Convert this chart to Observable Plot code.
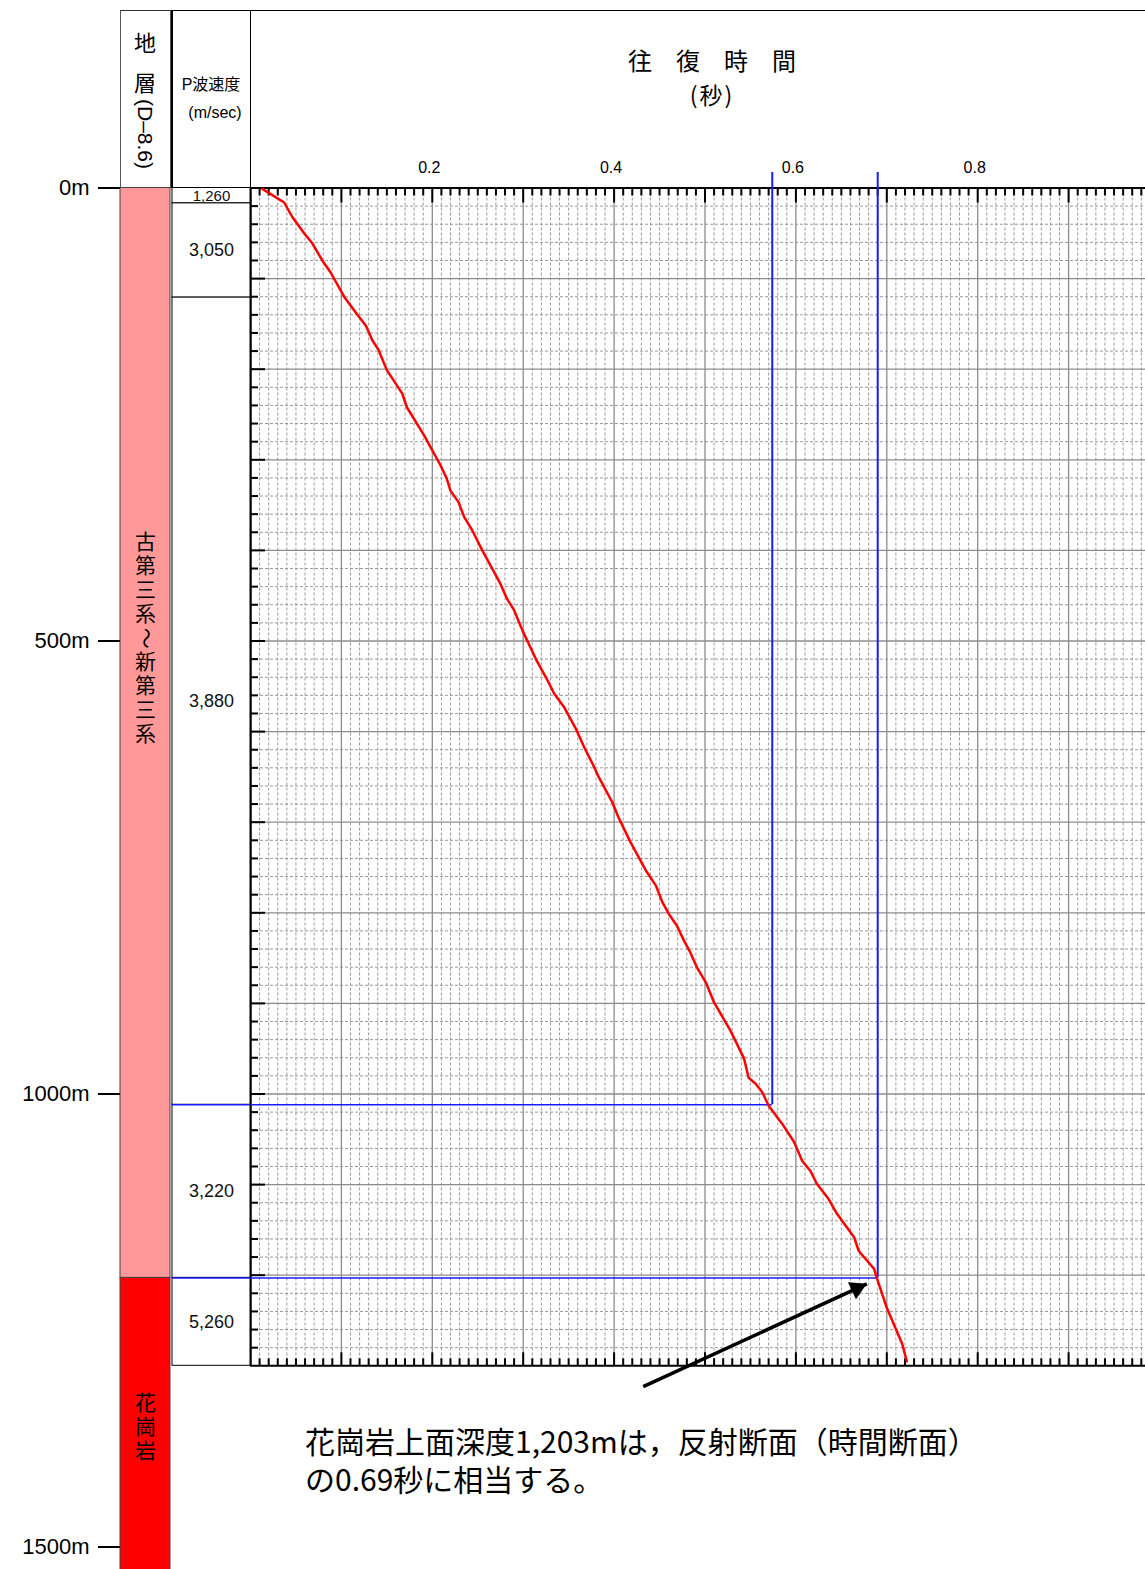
<!DOCTYPE html>
<html>
<head>
<meta charset="utf-8">
<script src="https://cdn.jsdelivr.net/npm/d3@7"></script>
<script src="https://cdn.jsdelivr.net/npm/@observablehq/plot@0.6"></script>
<style>
  body { margin: 0; background: #fff; }
  #wrap { position: relative; width: 1145px; height: 1569px; overflow: hidden;
          font-family: "Liberation Sans", "Noto Sans CJK JP", sans-serif; color: #000; }
  #wrap svg { position: absolute; left: 0; top: 0; }
  .hd { position: absolute; box-sizing: border-box; }
  .lbl { position: absolute; white-space: nowrap; }
  .cjk { font-family: "Noto Sans CJK JP", sans-serif; }
</style>
</head>
<body>
<div id="wrap">
  <!-- header boxes -->
  <div class="hd" style="left:120px;top:10px;width:51px;height:178px;border-top:1px solid #333;border-left:1px solid #555;border-right:1px solid #555;"></div>
  <div class="hd" style="left:171px;top:10px;width:80px;height:178px;border-top:1px solid #000;border-left:2px solid #000;border-right:1px solid #000;"></div>
  <div class="hd" style="left:250px;top:10px;width:900px;height:178px;border-top:1px solid #000;border-left:1px solid #000;"></div>
  <div class="lbl cjk" style="left:133px;top:28px;width:24px;text-align:center;font-size:22px;line-height:26px;">地</div>
  <div class="lbl cjk" style="left:133px;top:68px;width:24px;text-align:center;font-size:22px;line-height:26px;">層</div>
  <div class="lbl" style="left:145px;top:134px;transform:translate(-50%,-50%) rotate(90deg);font-size:21px;line-height:24px;">(D–8.6)</div>
  <div class="lbl" style="left:172px;top:75px;width:78px;text-align:center;font-size:16px;line-height:20px;">P波速度</div>
  <div class="lbl" style="left:176px;top:103px;width:78px;text-align:center;font-size:16px;line-height:20px;">(m/sec)</div>
  <div class="lbl cjk" style="left:562px;top:47px;width:300px;text-align:center;font-size:24px;line-height:26px;">往　復　時　間</div>
  <div class="lbl cjk" style="left:562px;top:81px;width:300px;text-align:center;font-size:23px;line-height:26px;letter-spacing:2px;">(秒)</div>
</div>
<script>
// ---------------- data ----------------
// time–depth curve (two-way time in seconds, depth in metres)
const timeSec = [0.013,0.037,0.046,0.059,0.068,0.079,0.088,0.103,0.117,0.127,0.134,0.141,0.150,0.167,0.172,0.191,0.209,0.216,0.220,0.229,0.235,0.244,0.255,0.275,0.282,0.290,0.299,0.315,0.326,0.334,0.345,0.358,0.367,0.378,0.383,0.398,0.405,0.418,0.436,0.446,0.453,0.460,0.469,0.477,0.484,0.491,0.501,0.510,0.528,0.543,0.548,0.556,0.563,0.570,0.585,0.598,0.607,0.616,0.623,0.636,0.645,0.664,0.669,0.680,0.686,0.689,0.700,0.717,0.722];
const depthM  = [1,16,32,50,61,80,93,120,139,152,168,179,201,227,242,273,306,321,334,347,363,378,400,437,453,466,488,522,542,558,573,597,617,639,650,678,695,722,755,770,788,801,814,831,844,860,877,899,930,961,982,989,998,1013,1033,1053,1074,1085,1099,1116,1132,1158,1173,1186,1193,1203,1236,1276,1295];

// P-wave velocity layers
const layerTop    = [0, 17, 121, 1012, 1203];
const layerBottom = [17, 121, 1012, 1203, 1300];
const pVelocity   = [1260, 3050, 3880, 3220, 5260];

// strata
const strataNames  = ["古第三系～新第三系", "花崗岩"];
const strataTop    = [0, 1203];
const strataBottom = [1203, 1530];
const strataColors = ["#FF9999", "#FF0000"];

// ticks
const depthTicks = [0, 500, 1000, 1500];
const timeTickLabels = [0.2, 0.4, 0.6, 0.8];

// blue guide lines (time, depth)
const markerTime  = [0.574, 0.69];
const markerDepth = [1012, 1203];

// annotation
const annoText = "花崗岩上面深度1,203mは，反射断面（時間断面）\nの0.69秒に相当する。";

// ---------------- layout ----------------
const W = 1145, H = 1569;
const Y0 = 187.5, K = 0.906;          // pixel of 0 m, pixels per metre
const depthMax = 1500, plotDepth = 1300;
const yRangeFull = [Y0, Y0 + depthMax * K];
const yRangePlot = [Y0, Y0 + plotDepth * K];
const frameH = plotDepth * K, frameW = W - 250;
const strataLabelAt = [497, 1368];
const charPitch = 24;                  // px between stacked characters
const arrowAnno = {t1: 0.432, d1: 1323, t2: 0.678, d2: 1209.5};
const textAnno = {t: 0.06, d: 1404};

const curve = timeSec.map((t, i) => ({t, d: depthM[i]}));
const layers = pVelocity.map((v, i) => ({v, top: layerTop[i], bottom: layerBottom[i]}));
const strata = strataNames.map((name, i) => ({name, top: strataTop[i], bottom: strataBottom[i]}));
const markers = markerTime.map((t, i) => ({t, d: markerDepth[i]}));
// vertical (stacked) strata labels, one character per text
const strataChars = strata.flatMap((s, i) => {
  const chars = Array.from(s.name), n = chars.length;
  return chars.map((c, j) => ({c, d: strataLabelAt[i] + (j - (n - 1) / 2) * charPitch / K, rot: c === "～" ? 90 : 0}));
});

const minorT = d3.range(1, 100).filter(i => i % 10).map(i => i / 100);
const majorT = d3.range(1, 10).map(i => i / 10);
const minorD = d3.range(20, plotDepth, 20).filter(d => d % 100);
const majorD = d3.range(100, plotDepth, 100);

const baseStyle = {background: "transparent", fontFamily: "Liberation Sans, Noto Sans CJK JP, sans-serif", overflow: "visible"};

// ---------- chart A: depth axis + strata column ----------
const chartA = Plot.plot({
  width: W, height: H,
  marginLeft: 120, marginRight: W - 170, marginTop: Y0, marginBottom: H - yRangeFull[1],
  style: baseStyle,
  x: {axis: null},
  y: {domain: [0, depthMax], range: yRangeFull},
  color: {domain: strataNames, range: strataColors},
  marks: [
    Plot.rect(strata, {y1: "top", y2: "bottom", fill: "name", stroke: "#444", strokeWidth: 1}),
    Plot.text(strataChars, {y: "d", text: "c", rotate: "rot", frameAnchor: "middle",
      fontSize: 21, fontFamily: "Noto Sans CJK JP", fill: "black"}),
    Plot.axisY(depthTicks, {anchor: "left", tickSize: 22, tickPadding: 9, strokeWidth: 2,
      tickFormat: d => d + "m", fontSize: 22, label: null})
  ]
});

// ---------- chart B: P-wave velocity column ----------
const fmt = d3.format(",");
const chartB = Plot.plot({
  width: W, height: H,
  marginLeft: 172, marginRight: W - 250, marginTop: Y0, marginBottom: H - yRangeFull[1],
  style: baseStyle,
  x: {axis: null},
  y: {domain: [0, depthMax], range: yRangeFull, axis: null},
  marks: [
    Plot.rect(layers, {y1: "top", y2: "bottom", fill: "white", stroke: "black", strokeWidth: 1}),
    Plot.ruleY(markers, {y: "d", stroke: "#1a1aff", strokeWidth: 1.5}),
    Plot.text(layers, {y: d => (d.top + d.bottom) / 2, text: d => fmt(d.v), frameAnchor: "middle",
      fontSize: d => (d.bottom - d.top) < 40 ? 15 : 18, fill: "#111"})
  ]
});

// ---------- chart C: time–depth plot ----------
const chartC = Plot.plot({
  width: W, height: H,
  marginLeft: 250, marginRight: 0, marginTop: Y0, marginBottom: H - yRangePlot[1],
  style: baseStyle,
  x: {domain: [0, 1], range: [250, 250 + 909], axis: null},
  y: {domain: [0, plotDepth], range: yRangePlot, axis: null},
  marks: [
    Plot.ruleX(minorT, {stroke: "#9a9a9a", strokeWidth: 1, strokeDasharray: "3,2"}),
    Plot.ruleY(minorD, {stroke: "#9a9a9a", strokeWidth: 1, strokeDasharray: "3,2"}),
    Plot.ruleX(majorT, {stroke: "#8c8c8c", strokeWidth: 1.3}),
    Plot.ruleY(majorD, {stroke: "#8c8c8c", strokeWidth: 1.3}),
    // top ticks
    Plot.tickX(minorT, {insetBottom: frameH - 8, strokeWidth: 2}),
    Plot.tickX(majorT, {insetBottom: frameH - 15, strokeWidth: 2}),
    // bottom ticks
    Plot.tickX(minorT, {insetTop: frameH - 7, strokeWidth: 2}),
    Plot.tickX(majorT, {insetTop: frameH - 13, strokeWidth: 2}),
    // left ticks
    Plot.tickY(minorD, {insetRight: frameW - 8, strokeWidth: 2}),
    Plot.tickY(majorD, {insetRight: frameW - 15, strokeWidth: 2}),
    // frame lines
    Plot.ruleY([0, plotDepth], {stroke: "black", strokeWidth: 2}),
    Plot.ruleX([0], {stroke: "black", strokeWidth: 2.5}),
    // tick labels
    Plot.text(timeTickLabels, {x: d => d, frameAnchor: "top", dy: -26, dx: -3,
      text: d => d.toFixed(1), fontSize: 16, fill: "black"}),
    // blue guides
    Plot.ruleX(markers, {x: "t", y1: 0, y2: "d", insetTop: -15.5, stroke: "#1a1aff", strokeWidth: 2}),
    Plot.ruleY(markers, {y: "d", x1: 0, x2: "t", stroke: "#1a1aff", strokeWidth: 1.5}),
    // curve
    Plot.line(curve, {x: "t", y: "d", stroke: "#ff0000", strokeWidth: 2.5}),
    // annotation arrow
    Plot.link([arrowAnno], {x1: "t1", y1: "d1", x2: "t2", y2: "d2", stroke: "black", strokeWidth: 3.5}),
    Plot.dot([arrowAnno], {x: "t2", y: "d2", symbol: "triangle", r: 7, fill: "black", stroke: "none",
      rotate: 65, dx: -9.9, dy: 4.6}),
    Plot.text([textAnno], {x: "t", y: "d", text: () => annoText, textAnchor: "start", lineAnchor: "middle",
      fontSize: 30, lineHeight: 1.25, fontFamily: "Noto Sans CJK JP", fill: "black"})
  ]
});

const wrap = document.getElementById("wrap");
wrap.appendChild(chartC);
wrap.appendChild(chartB);
wrap.appendChild(chartA);
</script>
</body>
</html>
